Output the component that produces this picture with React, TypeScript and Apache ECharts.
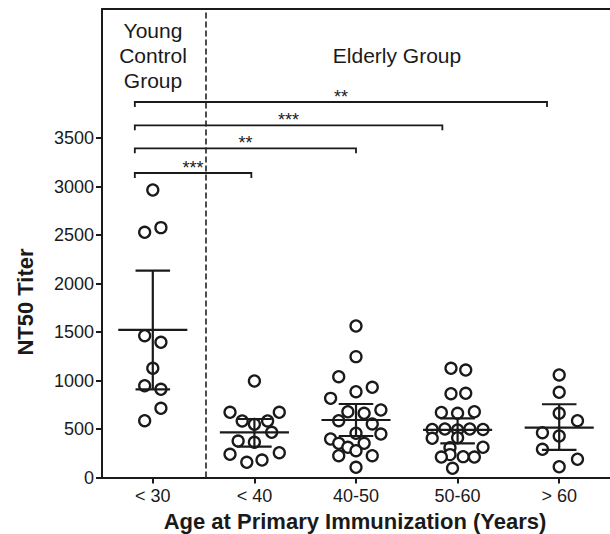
import React, { useEffect, useRef } from "react";
import * as echarts from "echarts";

const categories = ["< 30", "< 40", "40-50", "50-60", "> 60"];
const yTicks = [0, 500, 1000, 1500, 2000, 2500, 3000, 3500];

// individual titers per group, and each point's horizontal offset (in category units)
const youngValues = [2964, 2576, 2528, 1462, 1394, 1126, 946, 909, 713, 586];
const youngOffsets = [0, 0.08, -0.08, -0.08, 0.08, 0, -0.08, 0.08, 0.08, -0.08];
const under40Values = [995, 672, 672, 583, 583, 548, 466, 376, 363, 239, 256, 157, 180];
const under40Offsets = [0, -0.24, 0.245, -0.12, 0.13, 0, 0.17, -0.16, 0, -0.24, 0.245, -0.075, 0.075];
const g4050Values = [1562, 1246, 1039, 930, 885, 816, 678, 662, 696, 586, 552, 456, 397, 448, 352, 352, 311, 276, 225, 225, 105];
const g4050Offsets = [0, 0, -0.17, 0.16, 0, -0.25, -0.08, 0.08, 0.245, -0.17, 0.16, 0, -0.25, 0.245, -0.17, 0.08, -0.08, 0, -0.17, 0.16, 0];
const g5060Values = [1126, 1108, 864, 868, 670, 662, 678, 495, 500, 490, 500, 495, 404, 410, 307, 312, 236, 211, 215, 211, 95];
const g5060Offsets = [-0.065, 0.08, -0.065, 0.08, -0.16, 0, 0.165, -0.25, -0.125, 0, 0.12, 0.25, -0.25, 0, -0.075, 0.25, -0.075, -0.16, 0.055, 0.165, -0.05];
const over60Values = [1057, 878, 662, 586, 462, 428, 291, 111, 188];
const over60Offsets = [0, 0, 0, 0.18, -0.165, 0, -0.165, 0, 0.18];

// mean and 95% CI per group
const means = [1521, 466, 593, 490, 514];
const ciLow = [909, 318, 428, 352, 284];
const ciHigh = [2132, 603, 758, 610, 755];

// significance brackets
const bracketLeft = [-0.177, -0.177, -0.177, -0.177];
const bracketRight = [0.97, 2.0, 2.85, 3.88];
const bracketY = [3139, 3394, 3631, 3871];
const bracketLabels = ["***", "**", "***", "**"];

const groupValues = [youngValues, under40Values, g4050Values, g5060Values, over60Values];
const groupOffsets = [youngOffsets, under40Offsets, g4050Offsets, g5060Offsets, over60Offsets];

const FONT = "'Liberation Sans', Arial, sans-serif";
const INK = "#1a1a1a";

export default function App() {
  const ref = useRef<HTMLDivElement>(null);
  useEffect(() => {
    if (!ref.current) return;
    const chart = echarts.init(ref.current, null, { renderer: "svg" });

    const points: number[][] = [];
    groupValues.forEach((vals, gi) => {
      vals.forEach((v, i) => points.push([gi + groupOffsets[gi][i], v]));
    });
    const meanData = means.map((m, i) => [i, m, ciLow[i], ciHigh[i]]);
    const bracketData = bracketY.map((y, i) => [bracketLeft[i], bracketRight[i], y]);

    chart.setOption({
      animation: false,
      grid: {
        left: 102,
        right: -2,
        top: 9,
        bottom: 56.5,
      },
      xAxis: [
        {
          type: "value",
          min: -0.5,
          max: 4.5,
          splitLine: { show: false },
          axisLine: { onZero: false, lineStyle: { color: INK, width: 2 } },
          axisTick: {
            customValues: [0, 1, 2, 3, 4],
            length: 6,
            lineStyle: { color: INK, width: 2 },
          },
          axisLabel: {
            customValues: [0, 1, 2, 3, 4],
            formatter: (v: number) => categories[Math.round(v)] ?? "",
            fontFamily: FONT,
            fontSize: 18,
            color: INK,
            margin: 9,
          },
        },
        {
          type: "value",
          position: "top",
          min: -0.5,
          max: 4.5,
          splitLine: { show: false },
          axisLine: { show: true, onZero: false, lineStyle: { color: INK, width: 2 } },
          axisTick: { show: false },
          axisLabel: { show: false },
        },
      ],
      yAxis: {
        type: "value",
        min: 0,
        max: 4830,
        splitLine: { show: false },
        axisLine: { show: true, onZero: false, lineStyle: { color: INK, width: 2 } },
        axisTick: {
          show: true,
          customValues: yTicks,
          length: 6,
          lineStyle: { color: INK, width: 2 },
        },
        axisLabel: {
          customValues: yTicks,
          formatter: (v: number) => String(v),
          fontFamily: FONT,
          fontSize: 18,
          color: INK,
          margin: 8,
        },
      },
      graphic: [
        {
          type: "text",
          x: 153,
          y: 55,
          style: {
            text: "Young\nControl\nGroup",
            font: `21px ${FONT}`,
            lineHeight: 25,
            fill: INK,
            align: "center",
            verticalAlign: "middle",
          },
        },
        {
          type: "text",
          x: 397,
          y: 55,
          style: {
            text: "Elderly Group",
            font: `21px ${FONT}`,
            fill: INK,
            align: "center",
            verticalAlign: "middle",
          },
        },
        {
          type: "text",
          x: 25,
          y: 302,
          rotation: Math.PI / 2,
          style: {
            text: "NT50 Titer",
            font: `bold 22px ${FONT}`,
            fill: INK,
            align: "center",
            verticalAlign: "middle",
          },
        },
        {
          type: "text",
          x: 355,
          y: 521,
          style: {
            text: "Age at Primary Immunization (Years)",
            font: `bold 22px ${FONT}`,
            fill: INK,
            align: "center",
            verticalAlign: "middle",
          },
        },
      ],
      series: [
        {
          type: "scatter",
          data: points,
          symbol: "circle",
          symbolSize: 11,
          itemStyle: { color: "#fff", borderColor: INK, borderWidth: 2.3, opacity: 1 },
          z: 2,
          markLine: {
            silent: true,
            symbol: "none",
            label: { show: false },
            lineStyle: { type: [6, 3], color: "#222", width: 1.6 },
            data: [{ xAxis: 0.52 }],
          },
        },
        {
          type: "custom",
          data: meanData,
          z: 3,
          renderItem: (params: any, api: any) => {
            const x = api.value(0);
            const pM = api.coord([x, api.value(1)]);
            const pLo = api.coord([x, api.value(2)]);
            const pHi = api.coord([x, api.value(3)]);
            const unit = api.size([1, 0])[0];
            const mw = 0.34 * unit;
            const cw = 0.17 * unit;
            const st = { stroke: INK, lineWidth: 2.2 };
            return {
              type: "group",
              children: [
                { type: "line", shape: { x1: pM[0] - mw, y1: pM[1], x2: pM[0] + mw, y2: pM[1] }, style: st },
                { type: "line", shape: { x1: pLo[0], y1: pLo[1], x2: pHi[0], y2: pHi[1] }, style: st },
                { type: "line", shape: { x1: pHi[0] - cw, y1: pHi[1], x2: pHi[0] + cw, y2: pHi[1] }, style: st },
                { type: "line", shape: { x1: pLo[0] - cw, y1: pLo[1], x2: pLo[0] + cw, y2: pLo[1] }, style: st },
              ],
            };
          },
        },
        {
          type: "custom",
          data: bracketData,
          z: 3,
          renderItem: (params: any, api: any) => {
            const y = api.value(2);
            const pL = api.coord([api.value(0), y]);
            const pR = api.coord([api.value(1), y]);
            return {
              type: "group",
              children: [
                {
                  type: "polyline",
                  shape: { points: [[pL[0], pL[1] + 5], [pL[0], pL[1]], [pR[0], pR[1]], [pR[0], pR[1] + 5]] },
                  style: { stroke: INK, lineWidth: 1.8, fill: "none" },
                },
                {
                  type: "text",
                  x: (pL[0] + pR[0]) / 2,
                  y: pL[1] - 5,
                  style: {
                    text: bracketLabels[params.dataIndex],
                    font: `18px ${FONT}`,
                    fill: INK,
                    align: "center",
                    verticalAlign: "middle",
                  },
                },
              ],
            };
          },
        },
      ],
    });
    return () => chart.dispose();
  }, []);
  return (
    <div
      ref={ref}
      style={{ position: "absolute", left: 0, top: 0, width: 610, height: 534, background: "#fff" }}
    />
  );
}
